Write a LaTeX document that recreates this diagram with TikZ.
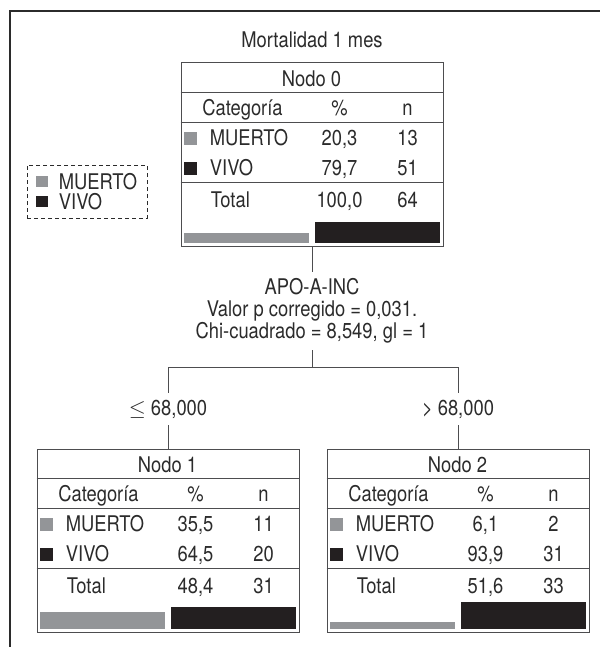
\documentclass[tikz,border=0pt]{standalone}
\usepackage{fontspec}
\setmainfont{TeX Gyre Heros}[FakeStretch=0.85]
\usetikzlibrary{calc}

\definecolor{muertogris}{HTML}{939598}
\definecolor{vivonegro}{HTML}{231F20}
\definecolor{trazo}{HTML}{4D4D4F}
\definecolor{tinta}{HTML}{2B2B2B}

% contenido de una tabla de nodo (#1 nombre, #2 numero, #3-#8 datos)
\newcommand{\tablanodo}[8]{%
  \draw[rejilla] ([shift={(0,30)}]#1.north west) -- ([shift={(0,30)}]#1.north east);
  \draw[rejilla] ([shift={(0,60)}]#1.north west) -- ([shift={(0,60)}]#1.north east);
  \draw[rejilla] ([shift={(0,120)}]#1.north west) -- ([shift={(0,120)}]#1.north east);
  \node[celda] (#1-titulo) at ([shift={(131,16)}]#1.north west) {Nodo #2};
  \node[celda] (#1-cat) at ([shift={(62,45)}]#1.north west) {Categoría};
  \node[celda] (#1-pct) at ([shift={(159,45)}]#1.north west) {\%};
  \node[celda] (#1-n) at ([shift={(227,45)}]#1.north west) {n};
  \fill[muertogris] ([shift={(3,69)}]#1.north west) rectangle ++(13,13);
  \fill[vivonegro] ([shift={(3,99)}]#1.north west) rectangle ++(13,13);
  \node[celda, anchor=west] (#1-muerto) at ([shift={(29,75)}]#1.north west) {MUERTO};
  \node[celda] (#1-mpct) at ([shift={(159,75)}]#1.north west) {#3};
  \node[celda] (#1-mn) at ([shift={(227,75)}]#1.north west) {#4};
  \node[celda, anchor=west] (#1-vivo) at ([shift={(29,105)}]#1.north west) {VIVO};
  \node[celda] (#1-vpct) at ([shift={(159,105)}]#1.north west) {#5};
  \node[celda] (#1-vn) at ([shift={(227,105)}]#1.north west) {#6};
  \node[celda, anchor=west] (#1-total) at ([shift={(30,137)}]#1.north west) {Total};
  \node[celda] (#1-tpct) at ([shift={(159,137)}]#1.north west) {#7};
  \node[celda] (#1-tn) at ([shift={(227,137)}]#1.north west) {#8};
}
% barras del pie de la tabla (#2 alto gris, #3 alto negro)
\newcommand{\barrasnodo}[3]{%
  \fill[muertogris] ([shift={(3,180)}]#1.north west) rectangle ++(125,-#2);
  \fill[vivonegro] ([shift={(134,180)}]#1.north west) rectangle ++(125,-#3);
}

\begin{document}
\begin{tikzpicture}[
    x=0.5pt, y=-0.5pt,
    every node/.style={text=tinta, font=\fontsize{10.8}{10.75}\selectfont},
    caja/.style={draw=trazo, line width=0.5pt, minimum width=131pt, minimum height=91.5pt, inner sep=0pt},
    celda/.style={inner sep=0pt, text height=7.8pt, text depth=0pt},
    rejilla/.style={draw=trazo, line width=0.5pt},
    linea/.style={draw=trazo, line width=0.5pt},
    corte/.style={align=center, inner xsep=2pt, inner ysep=3.3pt},
    marco/.style={draw=tinta, line width=1pt},
    leyendacaja/.style={draw=tinta, line width=0.5pt, dash pattern=on 2pt off 1.5pt, minimum width=60pt, minimum height=26.5pt, inner sep=0pt}
  ]
    \useasboundingbox (0,0) rectangle (600,647);
    \draw[marco] (9.5,647) -- (9.5,11) -- (600,11);

    \node[celda] (titulo) at (312,40) {Mortalidad 1 mes};

    % leyenda
    \node[leyendacaja] (leyenda) at (87,191.5) {};
    \fill[muertogris] ([shift={(9,11)}]leyenda.north west) rectangle ++(12,11);
    \fill[vivonegro] ([shift={(9,31)}]leyenda.north west) rectangle ++(12,11);
    \node[celda, anchor=west] (ley-muerto) at ([shift={(32,17)}]leyenda.north west) {MUERTO};
    \node[celda, anchor=west] (ley-vivo) at ([shift={(32,37)}]leyenda.north west) {VIVO};

    % nodos del arbol
    \node[caja] (n0) at (312,154.5) {};
    \node[caja] (n1) at (168,540.5) {};
    \node[caja] (n2) at (458,540.5) {};
    \tablanodo{n0}{0}{20,3}{13}{79,7}{51}{100,0}{64}
    \tablanodo{n1}{1}{35,5}{11}{64,5}{20}{48,4}{31}
    \tablanodo{n2}{2}{6,1}{2}{93,9}{31}{51,6}{33}
    \barrasnodo{n0}{10}{21}
    \barrasnodo{n1}{17}{22}
    \barrasnodo{n2}{7}{27}

    % division
    \node[corte, font=\fontsize{10.8}{11}\selectfont] (split) at (312,311) {APO-A-INC\\Valor p corregido = 0,031.\\Chi-cuadrado = 8,549, gl = 1};
    \coordinate (union) at (312,367);
    \coordinate (ramaizq) at (168,367);
    \coordinate (ramader) at (458,367);
    \node[corte] (rama1) at (168,409) {$\le$ 68,000};
    \node[corte] (rama2) at (458,409) {> 68,000};

    \draw[linea] (n0) -- (split);
    \draw[linea] (split) -- (union);
    \draw[linea] (ramaizq) -- (ramader);
    \draw[linea] (ramaizq) -- (rama1);
    \draw[linea] (ramader) -- (rama2);
    \draw[linea] (rama1) -- (n1);
    \draw[linea] (rama2) -- (n2);
\end{tikzpicture}
\end{document}
